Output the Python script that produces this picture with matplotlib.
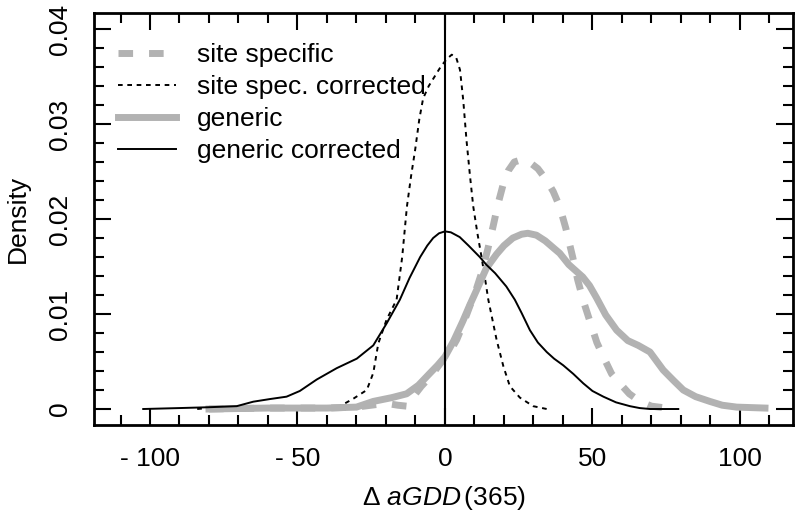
import matplotlib
matplotlib.use("Agg")
import matplotlib.pyplot as plt

plt.rcParams['font.family'] = ['Liberation Sans', 'DejaVu Sans']
plt.rcParams['mathtext.fontset'] = 'custom'
plt.rcParams['mathtext.rm'] = 'Liberation Sans'
plt.rcParams['mathtext.it'] = 'Liberation Sans:italic'

# density curves
site_x = [-80, -60, -40, -30, -25, -20, -16, -13, -11, -8, -5, -3, -0.6, 2, 4, 6, 8.4, 10.5, 12.4,
          14.5, 16.3, 18, 19.7, 21.5, 23.5, 26.5, 29, 31.5, 34.4, 36.7, 38.9, 41, 43.3, 45, 47, 49.7,
          51.5, 53.7, 56.5, 59.3, 62.5, 66.1, 70, 75.1, 78.9]
site_y = [0.0, 0.0001, 0.0001, 0.0002, 0.0004, 0.0006, 0.0004, 0.0003, 0.0012, 0.0024, 0.0034, 0.0042,
          0.0052, 0.0062, 0.0073, 0.0088, 0.0108, 0.0125, 0.0143, 0.0168, 0.0192, 0.0216, 0.0236,
          0.0251, 0.026, 0.0263, 0.0259, 0.0253, 0.0241, 0.0229, 0.0213, 0.019, 0.016, 0.0136, 0.0113,
          0.0087, 0.007, 0.0055, 0.0037, 0.0027, 0.0016, 0.0008, 0.0003, 0.0001, 0.0]

site_corr_x = [-84, -77, -69, -60, -54, -47, -41, -35.6, -31, -26.5, -24.3, -22.6, -19.8, -16.4, -14.5,
               -12.9, -11.5, -10.1, -8.7, -7.4, -5.5, -3.5, -1.5, 0.5, 2.3, 3.8, 5.1, 6.2, 7.3, 8.5,
               9.6, 11, 12.4, 13.8, 14.7, 17.5, 19.8, 22, 25.4, 29.9, 34.5]
site_corr_y = [0.0, 0.0002, 0.0, 0.0002, 0.0001, 0.0, 0.0003, 0.0003, 0.0011, 0.002, 0.0038, 0.0069,
               0.0094, 0.0115, 0.016, 0.0213, 0.0245, 0.0273, 0.0305, 0.0327, 0.034, 0.035, 0.036,
               0.0368, 0.0373, 0.037, 0.0357, 0.0325, 0.0283, 0.0245, 0.0213, 0.0185, 0.016, 0.0133,
               0.0115, 0.0073, 0.0045, 0.0024, 0.0012, 0.0003, 0.0]

gen_x = [-80, -60, -40, -30, -24.3, -18, -13, -9, -5, -2.5, 0, 3, 6, 8.5, 10.7, 14, 17.5, 20, 23, 26,
         28.1, 31, 34, 37, 38.9, 42, 46.7, 49, 51.4, 54.5, 58.2, 62, 65.5, 69.5, 74, 77.5, 80.8, 85,
         89.8, 94, 98.9, 108.5]
gen_y = [0.0, 0.0001, 0.0001, 0.0002, 0.0008, 0.0012, 0.0016, 0.0025, 0.0038, 0.0046, 0.0055, 0.0072,
         0.0092, 0.011, 0.0125, 0.0148, 0.0163, 0.0172, 0.018, 0.0184, 0.0185, 0.0183, 0.0177, 0.0169,
         0.0164, 0.0152, 0.0139, 0.013, 0.0117, 0.0099, 0.0083, 0.0072, 0.0067, 0.006, 0.0041, 0.003,
         0.002, 0.0013, 0.0008, 0.0004, 0.0002, 0.0001]

gen_corr_x = [-102.3, -90, -80.8, -70.6, -65, -59.3, -53.7, -49.2, -43.5, -36.7, -29.9, -24.3, -19.8,
              -15.3, -12, -8.4, -6, -4, -2, 0, 2, 5, 8, 11.8, 14, 17, 20.8, 23.7, 26, 28.8, 31.5, 34.5,
              37, 40.1, 43.5, 46.9, 50, 53.7, 58, 62.7, 66, 69.5, 79.1]
gen_corr_y = [0.0, 0.0001, 0.00018, 0.0003, 0.00077, 0.00105, 0.0013, 0.0019, 0.0031, 0.0043, 0.0053,
              0.0067, 0.009, 0.0115, 0.0138, 0.016, 0.0172, 0.018, 0.0185, 0.0187, 0.0186, 0.0181,
              0.0172, 0.016, 0.0152, 0.0143, 0.0129, 0.0115, 0.0101, 0.0083, 0.007, 0.006, 0.0053,
              0.0046, 0.0037, 0.0027, 0.0019, 0.0013, 0.0007, 0.0003, 0.0001, 0.0, 0.0]

x_ticks = [-100, -50, 0, 50, 100]
x_tick_labels = ['- 100', '- 50', '0', '50', '100']
y_ticks = [0, 0.01, 0.02, 0.03, 0.04]
y_tick_labels = ['0', '0.01', '0.02', '0.03', '0.04']

grey = '#b2b2b2'
fs = 19

fig = plt.figure(figsize=(7.99, 5.19), dpi=100)
ax = fig.add_axes([0.1176, 0.1811, 0.8749, 0.7938])

ax.plot(site_x, site_y, color=grey, lw=5, dashes=(2.1, 2.3), dash_capstyle='butt', label='site specific')
ax.plot(site_corr_x, site_corr_y, color='black', lw=1.4, dashes=(2.4, 2.4), label='site spec. corrected')
ax.plot(gen_x, gen_y, color=grey, lw=5, label='generic')
ax.plot(gen_corr_x, gen_corr_y, color='black', lw=1.4, label='generic corrected')
ax.axvline(0, color='black', lw=1.5)

ax.set_xlim(-119, 118)
ax.set_ylim(-0.001684, 0.041684)

ax.set_xticks(x_ticks)
ax.set_xticklabels(x_tick_labels)
ax.set_xticks(range(-110, 111, 10), minor=True)
ax.set_yticks(y_ticks)
ax.set_yticklabels(y_tick_labels, rotation=90, va='center')
ax.set_yticks([i * 0.002 for i in range(21)], minor=True)

ax.tick_params(which='both', direction='in', top=True, right=True, width=1.5, labelsize=fs)
ax.tick_params(which='major', length=12)
ax.tick_params(which='minor', length=7)
ax.tick_params(axis='x', pad=16)
ax.tick_params(axis='y', pad=16)
for s in ax.spines.values():
    s.set_linewidth(2)

ax.set_xlabel(r'$\Delta\ \mathit{aGDD}\,$(365)', fontsize=fs, labelpad=9)
ax.set_ylabel('Density', fontsize=fs, labelpad=13)

ax.legend(loc='upper left', bbox_to_anchor=(24 / 699, 1 - 30 / 412), frameon=False, fontsize=fs,
          handlelength=2.2, handletextpad=0.8, labelspacing=0.3, borderaxespad=0, borderpad=0)

fig.savefig('out.png', dpi=100)
